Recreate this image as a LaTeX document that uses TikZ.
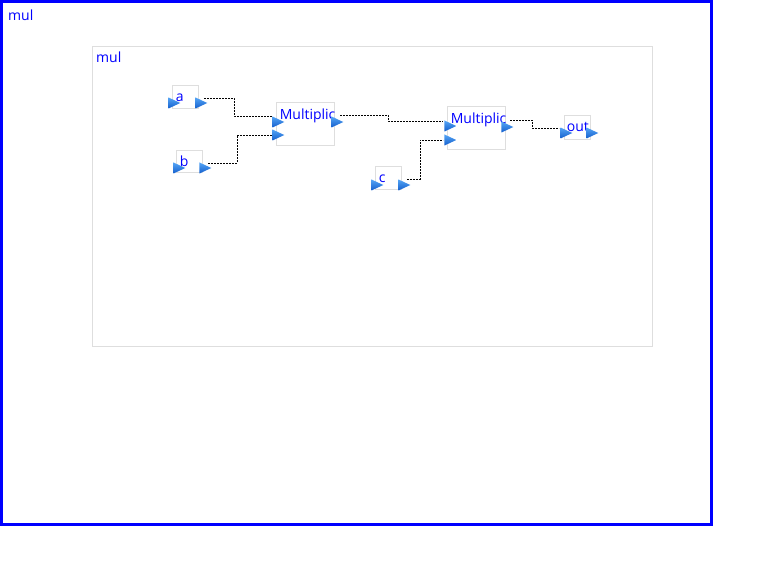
\documentclass[tikz,border=0pt]{standalone}
\usepackage{fontspec}
\setmainfont{Open Sans}
\usetikzlibrary{shapes.geometric, positioning, calc}
\definecolor{portlight}{RGB}{85,165,245}
\definecolor{portdark}{RGB}{20,95,205}
\definecolor{boxgray}{RGB}{222,222,222}

\begin{document}
\begin{tikzpicture}[x=1pt, y=-1pt,
    font=\fontsize{14}{16}\selectfont,
    block/.style={draw=boxgray, line width=0.8pt, inner sep=0pt},
    port/.style={isosceles triangle,
                 isosceles triangle apex angle=50,
                 minimum width=11pt,
                 minimum height=11pt,
                 inner sep=0pt,
                 outer sep=0pt,
                 draw=none,
                 top color=portlight,
                 bottom color=portdark},
    lbl/.style={text=blue, anchor=base west, inner sep=0pt},
    wire/.style={black, line width=0.6pt, dash pattern=on 2pt off 1pt}]

    \useasboundingbox (0,0) rectangle (764,577);

    % frames
    \draw[blue, line width=3pt] (1.5,1.5) rectangle (711.5,524.5);
    \node[lbl] (toplabel) at (8,21) {mul};
    \draw[boxgray, line width=0.8pt] (92.5,46.5) rectangle (652.5,346.5);
    \node[lbl] (innerlabel) at (96,63) {mul};

    % blocks
    \node[block, minimum width=26pt, minimum height=23pt] (a) at (185,96.5) {};
    \node[block, minimum width=26pt, minimum height=22pt] (b) at (189,161) {};
    \node[block, minimum width=58pt, minimum height=43pt] (m1) at (305,123.5) {};
    \node[block, minimum width=26pt, minimum height=23pt] (c) at (388,177.5) {};
    \node[block, minimum width=58pt, minimum height=43pt] (m2) at (476,127.5) {};
    \node[block, minimum width=26pt, minimum height=24pt] (out) at (577,127) {};

    \node[lbl] (alabel) at ($(a.north west)+(4,17)$) {a};
    \node[lbl] (blabel) at ($(b.north west)+(4,17)$) {b};
    \node[lbl] (clabel) at ($(c.north west)+(4,17)$) {c};
    \node[lbl] (outlabel) at ($(out.north west)+(3,17)$) {out};
    \begin{scope}
        \clip (m1.north west) rectangle ($(m1.south east)+(5,0)$);
        \node[lbl] (m1label) at ($(m1.north west)+(4,18)$) {Multiplic};
    \end{scope}
    \begin{scope}
        \clip (m2.north west) rectangle ($(m2.south east)+(5,0)$);
        \node[lbl] (m2label) at ($(m2.north west)+(4,18)$) {Multiplic};
    \end{scope}

    % ports
    \node[port] (ain) at (172,103) {};
    \node[port] (aout) at (199,103) {};
    \node[port] (bin) at (177,168) {};
    \node[port] (bout) at (203,168) {};
    \node[port] (m1in1) at (276,122) {};
    \node[port] (m1in2) at (276,135) {};
    \node[port] (m1out) at (335,122) {};
    \node[port] (cin) at (375,185) {};
    \node[port] (cout) at (402,185) {};
    \node[port] (m2in1) at (448,126) {};
    \node[port] (m2in2) at (448,140) {};
    \node[port] (m2out) at (505,127) {};
    \node[port] (outin) at (564,133) {};
    \node[port] (outout) at (590,133) {};

    % wires
    \draw[wire] ($(aout)+(5,-5)$) -- ++(30,0) |- ($(m1in1)+(-4,-6)$);
    \draw[wire] ($(bout)+(5,-5)$) -- ++(29,0) |- ($(m1in2)+(-4,0)$);
    \draw[wire] ($(m1out)+(5,-7)$) -- ++(48,0) |- ($(m2in1)+(-5,-5)$);
    \draw[wire] ($(cout)+(5,-6)$) -- ++(13,0) |- ($(m2in2)+(-5,0)$);
    \draw[wire] ($(m2out)+(5,-7)$) -- ++(22,0) |- ($(outin)+(-5,-5)$);
\end{tikzpicture}
\end{document}
